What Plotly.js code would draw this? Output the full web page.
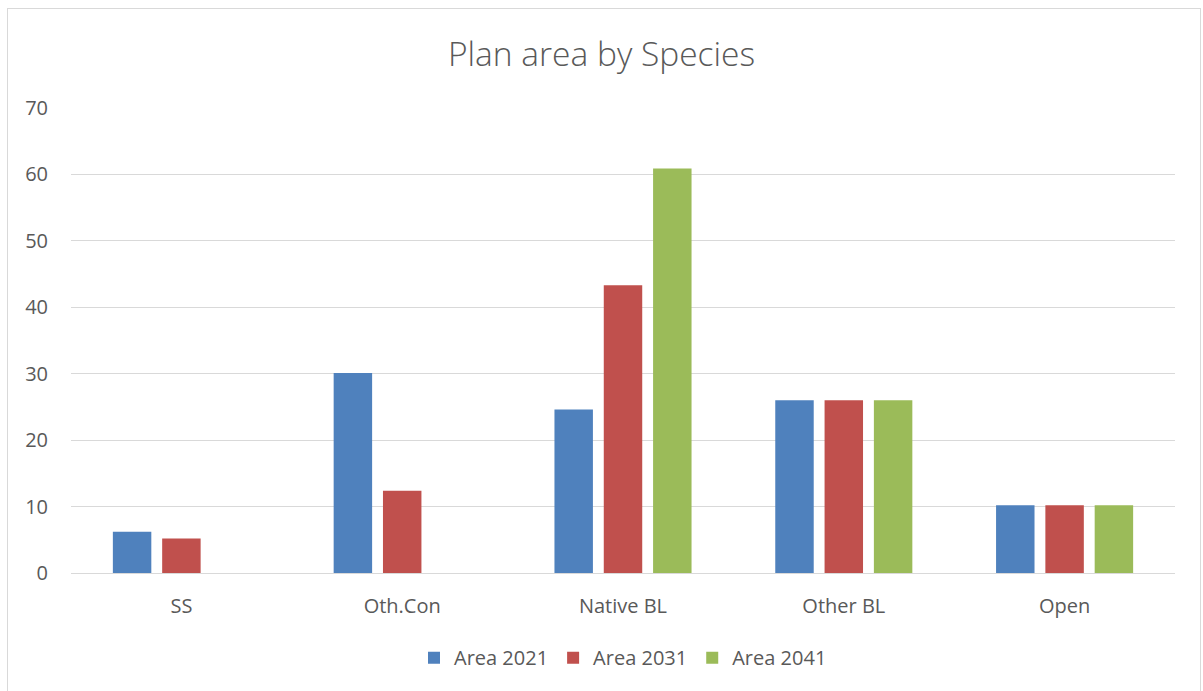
<!DOCTYPE html>
<html>
<head>
<meta charset="utf-8">
<script src="https://cdn.plot.ly/plotly-3.0.1.min.js"></script>
<style>
html,body{margin:0;padding:0;background:#fff;}
#frame{position:absolute;left:7px;top:8px;width:1194px;height:690px;border:1px solid #d9d9d9;box-sizing:border-box;}
#chart{position:absolute;left:0;top:0;width:1203px;height:691px;}
</style>
</head>
<body>
<div id="frame"></div>
<div id="chart"></div>
<script>
const categories = ["SS", "Oth.Con", "Native BL", "Other BL", "Open"];
const seriesNames = ["Area 2021", "Area 2031", "Area 2041"];
const area2021 = [6.2, 30.1, 24.6, 26.0, 10.2];
const area2031 = [5.2, 12.4, 43.3, 26.0, 10.2];
const area2041 = [0, 0, 60.9, 26.0, 10.2];
const colors = ["#4f81bd", "#c0504d", "#9bbb59"];

const values = [area2021, area2031, area2041];
const traces = values.map((v, i) => ({
  type: "bar",
  name: seriesNames[i],
  x: categories,
  y: v,
  marker: {color: colors[i]},
  hoverinfo: "x+y+name"
}));

const font = "Open Sans, Liberation Sans, sans-serif";
const layout = {
  width: 1203,
  height: 691,
  paper_bgcolor: "rgba(0,0,0,0)",
  plot_bgcolor: "rgba(0,0,0,0)",
  margin: {l: 71, r: 28, t: 108, b: 118},
  title: {
    text: "Plan area by Species",
    font: {family: font, size: 33.5, color: "#595959", weight: 300},
    x: 0.5, xanchor: "center",
    y: 0.921, yanchor: "middle"
  },
  barmode: "group",
  bargap: 0.33,
  bargroupgap: 0.22,
  xaxis: {
    type: "category",
    showgrid: false,
    showline: true,
    linecolor: "#d9d9d9",
    linewidth: 1,
    ticks: "",
    tickfont: {family: font, size: 20, color: "#595959"},
    ticklabelstandoff: 15
  },
  yaxis: {
    range: [0, 70],
    dtick: 10,
    showgrid: true,
    gridcolor: "#d9d9d9",
    gridwidth: 1,
    zeroline: false,
    showline: false,
    ticks: "",
    tickfont: {family: font, size: 20, color: "#595959"},
    ticklabelstandoff: 22
  },
  legend: {
    orientation: "h",
    x: 0.5, xanchor: "center",
    y: -0.182, yanchor: "middle",
    font: {family: font, size: 20, color: "#595959"},
    itemwidth: 30,
    traceorder: "normal"
  },
  showlegend: true
};

Plotly.newPlot("chart", traces, layout, {displayModeBar: false, staticPlot: true});
</script>
</body>
</html>
